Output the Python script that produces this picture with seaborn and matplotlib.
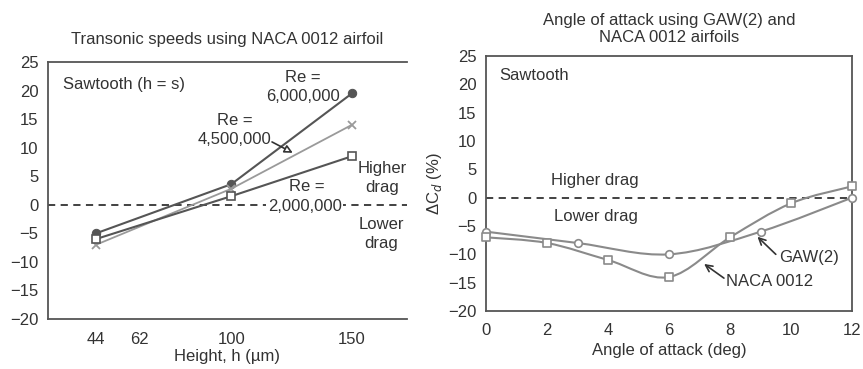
import numpy as np
import matplotlib
matplotlib.use("Agg")
import matplotlib.pyplot as plt
import seaborn as sns
from matplotlib.path import Path
from matplotlib.patches import PathPatch

# ---------------- data ----------------
height_um = [44, 100, 150]
re_6m = [-5.0, 3.6, 19.5]
re_45m = [-7.0, 2.8, 14.0]
re_2m = [-6.0, 1.5, 8.5]
left_xticks = [44, 62, 100, 150]

gaw_aoa = [0, 3, 6, 9, 12]
gaw_dcd = [-6.0, -8.0, -10.0, -6.0, 0.0]
naca_aoa = [0, 2, 4, 6, 8, 10, 12]
naca_dcd = [-7.0, -8.0, -11.0, -14.0, -7.0, -1.0, 2.0]
right_xticks = [0, 2, 4, 6, 8, 10, 12]
yticks = [-20, -15, -10, -5, 0, 5, 10, 15, 20, 25]

sns.set_theme(style="white")
plt.rcParams['font.family'] = ['Liberation Sans', 'DejaVu Sans']
FS = 12
plt.rcParams['font.size'] = FS

DARK = "#555555"
LIGHT = "#9a9a9a"
MID = "#8a8a8a"
TXT = "#333333"

fig = plt.figure(figsize=(8.63, 3.69), dpi=100)
axL = fig.add_axes([0.0556, 0.1355, 0.416, 0.6965])
axR = fig.add_axes([0.5632, 0.1572, 0.4241, 0.691])


def style_axes(ax):
    for s in ax.spines.values():
        s.set_color(DARK)
        s.set_linewidth(1.3)
    ax.tick_params(direction="in", length=4, width=1, color=DARK,
                   labelsize=FS, labelcolor=TXT)
    ax.tick_params(axis="x", pad=9)
    ax.tick_params(axis="y", pad=7)


# ---------------- left panel ----------------
style_axes(axL)
axL.spines["right"].set_visible(False)
sns.lineplot(x=height_um, y=re_6m, ax=axL, color=DARK, lw=1.5, marker="o",
             markersize=6, markeredgecolor=DARK, markerfacecolor=DARK)
sns.lineplot(x=height_um, y=re_45m, ax=axL, color=LIGHT, lw=1.3, marker="x",
             markersize=6, markeredgecolor=LIGHT, markeredgewidth=1.3)
sns.lineplot(x=height_um, y=re_2m, ax=axL, color=DARK, lw=1.5, marker="s",
             markersize=6, markeredgecolor=DARK, markerfacecolor="white",
             markeredgewidth=1.2)
axL.axhline(0, color="#333333", lw=1.3, ls=(0, (4, 3)), zorder=1)
axL.set_xlim(24.1, 172.8)
axL.set_ylim(-20, 25)
axL.set_yticks(yticks)
axL.set_xticks(left_xticks)
axL.set_xticklabels([str(v) for v in left_xticks])
axL.xaxis.get_major_ticks()[1].tick1line.set_visible(False)
axL.set_xlabel("Height, h (µm)", fontsize=FS, color=TXT, labelpad=2)
axL.set_title("Transonic speeds using NACA 0012 airfoil", fontsize=FS,
              color=TXT, pad=13)

axL.text(30.5, 21.1, "Sawtooth (h = s)", ha="left", va="center", fontsize=FS, color=TXT)
axL.text(129.7, 20.6, "Re =\n6,000,000", ha="center", va="center", fontsize=FS,
         color=TXT, linespacing=1.35)
axL.text(101.5, 13.1, "Re =\n4,500,000", ha="center", va="center", fontsize=FS,
         color=TXT, linespacing=1.35)
axL.text(131.5, 3.2, "Re =", ha="center", va="center", fontsize=FS, color=TXT)
axL.text(130.5, -0.3, "2,000,000", ha="center", va="center", fontsize=FS,
         color=TXT, zorder=3,
         bbox=dict(boxstyle="square,pad=0.1", fc="white", ec="none"))
axL.text(162.7, 4.7, "Higher\ndrag", ha="center", va="center", fontsize=FS,
         color=TXT, linespacing=1.35)
axL.text(162.2, -5.1, "Lower\ndrag", ha="center", va="center", fontsize=FS,
         color=TXT, linespacing=1.35)
axL.annotate("", xy=(125.5, 9.1), xytext=(116.9, 11.0),
             arrowprops=dict(arrowstyle="-|>", color="#333333", lw=1.2,
                             mutation_scale=12, fc="white",
                             shrinkA=0, shrinkB=0))

# ---------------- right panel ----------------
style_axes(axR)


def smooth_path(xs, ys):
    pts = np.column_stack([xs, ys]).astype(float)
    n = len(pts)
    verts = [pts[0]]
    codes = [Path.MOVETO]
    for i in range(n - 1):
        p0 = pts[i - 1] if i > 0 else pts[i]
        p1 = pts[i]
        p2 = pts[i + 1]
        p3 = pts[i + 2] if i + 2 < n else pts[i + 1]
        c1 = p1 + (p2 - p0) / 6.0
        c2 = p2 - (p3 - p1) / 6.0
        verts += [c1, c2, p2]
        codes += [Path.CURVE4] * 3
    return Path(verts, codes)


for xs, ys in [(gaw_aoa, gaw_dcd), (naca_aoa, naca_dcd)]:
    axR.add_patch(PathPatch(smooth_path(xs, ys), fc="none", ec=MID, lw=1.5,
                            zorder=2, transform=axR.transData))

sns.scatterplot(x=gaw_aoa, y=gaw_dcd, ax=axR, marker="o", s=30,
                facecolor="white", edgecolor=MID, linewidth=1.2, zorder=3,
                clip_on=False)
sns.scatterplot(x=naca_aoa, y=naca_dcd, ax=axR, marker="s", s=28,
                facecolor="white", edgecolor=MID, linewidth=1.2, zorder=3,
                clip_on=False)
axR.axhline(0, color="#333333", lw=1.3, ls=(0, (4, 3)), zorder=1)
axR.set_xlim(0, 12)
axR.set_ylim(-20, 25)
axR.set_yticks(yticks)
axR.set_xticks(right_xticks)
axR.set_xlabel("Angle of attack (deg)", fontsize=FS, color=TXT, labelpad=3)
axR.set_ylabel("ΔC$_d$ (%)", fontsize=FS, color=TXT, labelpad=3)
axR.set_title("Angle of attack using GAW(2) and\nNACA 0012 airfoils",
              fontsize=FS, color=TXT, pad=10, linespacing=1.15)

axR.text(0.45, 21.5, "Sawtooth", ha="left", va="center", fontsize=FS, color=TXT)
axR.text(3.55, 3.0, "Higher drag", ha="center", va="center", fontsize=FS, color=TXT)
axR.text(3.6, -3.3, "Lower drag", ha="center", va="center", fontsize=FS, color=TXT)
axR.text(9.6, -10.5, "GAW(2)", ha="left", va="center", fontsize=FS, color=TXT)
axR.text(9.3, -14.8, "NACA 0012", ha="center", va="center", fontsize=FS, color=TXT)
axR.annotate("", xy=(8.9, -6.9), xytext=(9.5, -10.0),
             arrowprops=dict(arrowstyle="->", color="#333333", lw=1.2,
                             shrinkA=0, shrinkB=0))
axR.annotate("", xy=(7.15, -11.7), xytext=(7.8, -14.2),
             arrowprops=dict(arrowstyle="->", color="#333333", lw=1.2,
                             shrinkA=0, shrinkB=0))

fig.savefig("out.png", dpi=100)
